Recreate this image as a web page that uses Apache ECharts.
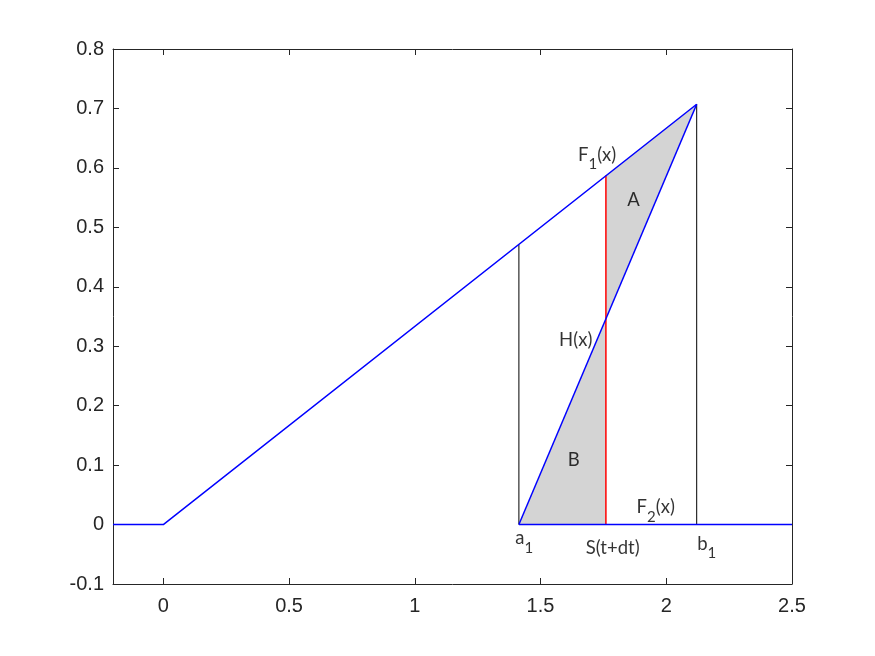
<!DOCTYPE html>
<html>
<head>
<meta charset="utf-8">
<script src="https://cdn.jsdelivr.net/npm/echarts@6/dist/echarts.min.js"></script>
<style>html,body{margin:0;padding:0;background:#fff}#c{width:875px;height:656px}</style>
</head>
<body>
<div id="c"></div>
<script>
// ---- data ----
var xTicks = [0, 0.5, 1, 1.5, 2, 2.5];
var yTicks = [-0.1, 0, 0.1, 0.2, 0.3, 0.4, 0.5, 0.6, 0.7, 0.8];
// F1 (blue): flat then rising to b1
var f1X = [-0.2, 0, 2.121];
var f1Y = [0, 0, 0.707];
// H (blue): from a1 to b1
var hX = [1.414, 2.121];
var hY = [0, 0.707];
// F2 (blue): zero from a1 to 2.5
var f2X = [1.414, 2.5];
var f2Y = [0, 0];
// vertical black lines at a1, b1
var a1X = [1.414, 1.414];
var a1Y = [0, 0.471];
var b1X = [2.121, 2.121];
var b1Y = [0, 0.707];
// red line at S(t+dt)
var sX = [1.76, 1.76];
var sY = [0, 0.587];
// gray area polygon
var fillX = [1.414, 1.76, 1.76, 2.121];
var fillY = [0, 0, 0.587, 0.707];
// annotations
var annText = ['{m|F}{s|1}{m|(x)}', '{m|A}', '{m|H(x)}', '{m|B}', '{m|F}{s|2}{m|(x)}', '{m|a}{t|1}', '{m|S(t+dt)}', '{m|b}{t|1}'];
var annX = [1.725, 1.870, 1.640, 1.632, 1.958, 1.435, 1.787, 2.161];
var annY = [0.622, 0.546, 0.311, 0.108, 0.029, -0.0235, -0.040, -0.032];

function zip(xs, ys) { return xs.map(function (x, i) { return [x, ys[i]]; }); }

var axisColor = '#262626';
var chart = echarts.init(document.getElementById('c'));

function lineSeries(xs, ys, color, width) {
  return {
    type: 'line', data: zip(xs, ys), symbol: 'none', silent: true,
    lineStyle: { color: color, width: width }, z: 3, animation: false
  };
}

var option = {
  backgroundColor: '#fff',
  animation: false,
  grid: { left: 113, right: 83, top: 49, bottom: 72, containLabel: false },
  xAxis: [{
    type: 'value', min: -0.2, max: 2.5, position: 'bottom',
    axisLine: { show: true, onZero: false, lineStyle: { color: axisColor, width: 1 } },
    axisTick: { show: true, inside: true, length: 6, customValues: xTicks, lineStyle: { color: axisColor } },
    axisLabel: { customValues: xTicks, color: axisColor, fontSize: 20, fontFamily: 'Liberation Sans', margin: 12,
      formatter: function (v) { return String(Math.round(v * 10) / 10); } },
    splitLine: { show: false }
  }, {
    type: 'value', min: -0.2, max: 2.5, position: 'top',
    axisLine: { show: true, onZero: false, lineStyle: { color: axisColor, width: 1 } },
    axisTick: { show: true, inside: true, length: 6, customValues: xTicks, lineStyle: { color: axisColor } },
    axisLabel: { show: false },
    splitLine: { show: false }
  }],
  yAxis: [{
    type: 'value', min: -0.1, max: 0.8, position: 'left',
    axisLine: { show: true, onZero: false, lineStyle: { color: axisColor, width: 1 } },
    axisTick: { show: true, inside: true, length: 6, customValues: yTicks, lineStyle: { color: axisColor } },
    axisLabel: { customValues: yTicks, color: axisColor, fontSize: 20, fontFamily: 'Liberation Sans', margin: 9,
      formatter: function (v) { return String(Math.round(v * 10) / 10); } },
    splitLine: { show: false }
  }, {
    type: 'value', min: -0.1, max: 0.8, position: 'right',
    axisLine: { show: true, onZero: false, lineStyle: { color: axisColor, width: 1 } },
    axisTick: { show: true, inside: true, length: 6, customValues: yTicks, lineStyle: { color: axisColor } },
    axisLabel: { show: false },
    splitLine: { show: false }
  }],
  series: [
    {
      type: 'custom', silent: true, z: 1,
      data: [0],
      renderItem: function (params, api) {
        var pts = fillX.map(function (x, i) { return api.coord([x, fillY[i]]); });
        return { type: 'polygon', shape: { points: pts }, style: { fill: '#d4d4d4', stroke: null } };
      }
    },
    lineSeries(a1X, a1Y, '#000000', 1),
    lineSeries(b1X, b1Y, '#000000', 1),
    lineSeries(sX, sY, '#ff0000', 1.5),
    lineSeries(f1X, f1Y, '#0000ff', 1.5),
    lineSeries(hX, hY, '#0000ff', 1.5),
    lineSeries(f2X, f2Y, '#0000ff', 1.5),
    {
      type: 'scatter', silent: true, z: 5, symbolSize: 0,
      data: zip(annX, annY).map(function (p, i) { return { value: p, label: { formatter: annText[i] } }; }),
      label: {
        show: true, position: 'inside', color: '#000',
        rich: {
          m: { fontSize: 18.5, fontFamily: 'Lato', color: '#000', lineHeight: 34, verticalAlign: 'middle' },
          s: { fontSize: 15, fontFamily: 'Lato', color: '#000', lineHeight: 15, verticalAlign: 'bottom' },
          t: { fontSize: 15, fontFamily: 'Lato', color: '#000', lineHeight: 11, verticalAlign: 'bottom' }
        }
      }
    }
  ]
};
chart.setOption(option);
</script>
</body>
</html>
